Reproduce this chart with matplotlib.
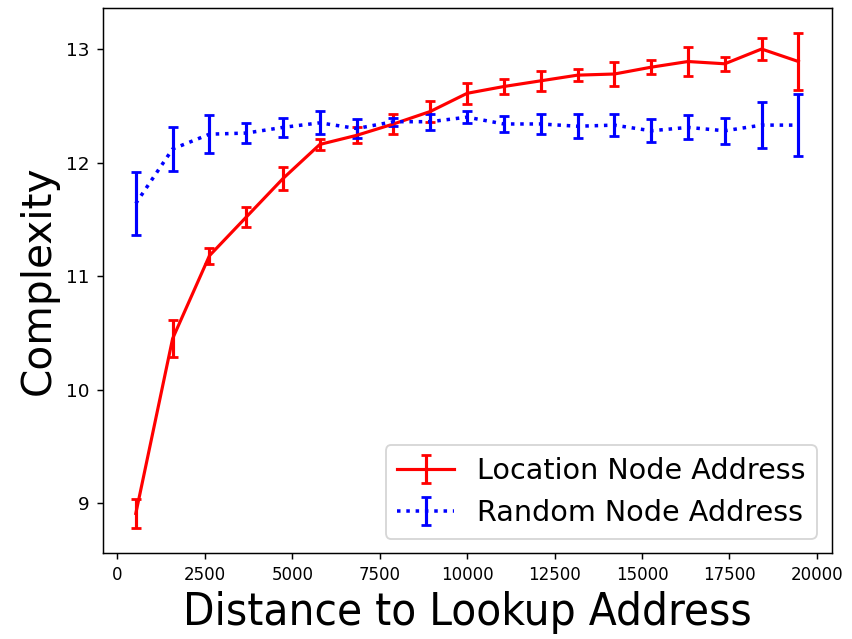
import matplotlib
matplotlib.use("Agg")
import matplotlib.pyplot as plt

# bin centres (distance to lookup address)
distance = [526, 1579, 2632, 3684, 4737, 5789, 6842, 7895, 8947, 10000,
            11053, 12105, 13158, 14211, 15263, 16316, 17368, 18421, 19474]

# location-based node address
loc_mean = [8.91, 10.45, 11.18, 11.52, 11.86, 12.16, 12.24, 12.34, 12.45, 12.61,
            12.67, 12.72, 12.77, 12.78, 12.84, 12.89, 12.87, 13.00, 12.89]
loc_err = [0.13, 0.16, 0.07, 0.09, 0.10, 0.05, 0.07, 0.09, 0.09, 0.09,
           0.065, 0.09, 0.05, 0.105, 0.06, 0.13, 0.063, 0.095, 0.25]

# random node address
rnd_mean = [11.64, 12.12, 12.25, 12.26, 12.31, 12.35, 12.30, 12.36, 12.36, 12.40,
            12.34, 12.34, 12.32, 12.33, 12.28, 12.31, 12.28, 12.33, 12.33]
rnd_err = [0.28, 0.19, 0.17, 0.085, 0.086, 0.10, 0.087, 0.034, 0.07, 0.054,
           0.073, 0.087, 0.106, 0.10, 0.10, 0.106, 0.113, 0.20, 0.27]

fig, ax = plt.subplots(figsize=(6.4, 4.8), dpi=133.125)
fig.subplots_adjust(left=0.1205, right=0.976, bottom=0.1346, top=0.9869)

ax.errorbar(distance, loc_mean, yerr=loc_err, color="red", linestyle="-",
            linewidth=1.7, elinewidth=1.7, capsize=2.6, capthick=1.5,
            label="Location Node Address")
ax.errorbar(distance, rnd_mean, yerr=rnd_err, color="blue", linestyle=":",
            linewidth=1.9, elinewidth=1.7, capsize=2.6, capthick=1.5,
            label="Random Node Address")

ax.set_xticks([0, 2500, 5000, 7500, 10000, 12500, 15000, 17500, 20000])
ax.set_yticks([9, 10, 11, 12, 13])
for lbl in ax.get_xticklabels():
    lbl.set_fontstretch("condensed")

ax.set_xlabel("Distance to Lookup Address", fontsize=24.6, fontstretch="condensed")
ax.set_ylabel("Complexity", fontsize=22)
ax.legend(loc="lower right", fontsize=15.5)

fig.savefig("out.png", dpi=133.125)
